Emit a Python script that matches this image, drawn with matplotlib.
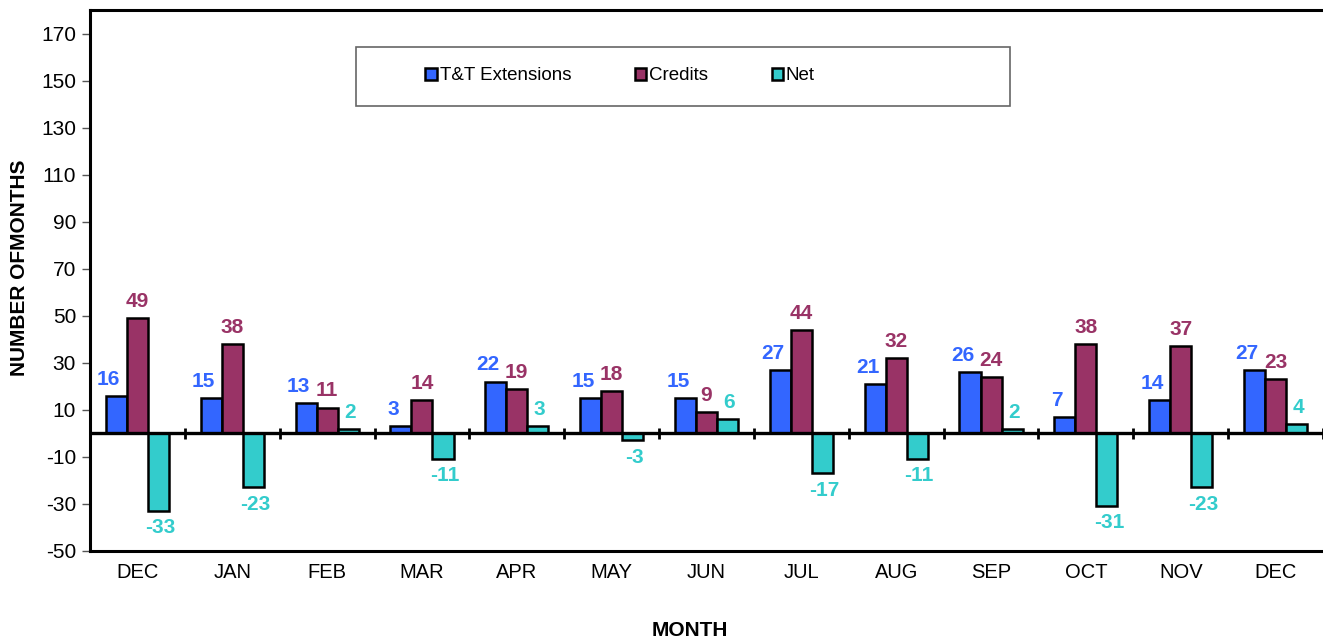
import numpy as np
import matplotlib
matplotlib.use("Agg")
import matplotlib.pyplot as plt
from matplotlib.patches import Rectangle

plt.rcParams["font.family"] = ["Liberation Sans", "DejaVu Sans"]
plt.rcParams["axes.unicode_minus"] = False

# data
months = ["DEC", "JAN", "FEB", "MAR", "APR", "MAY", "JUN", "JUL", "AUG", "SEP", "OCT", "NOV", "DEC"]
extensions = [16, 15, 13, 3, 22, 15, 15, 27, 21, 26, 7, 14, 27]
credits = [49, 38, 11, 14, 19, 18, 9, 44, 32, 24, 38, 37, 23]
net = [-33, -23, 2, -11, 3, -3, 6, -17, -11, 2, -31, -23, 4]

series_names = ["T&T Extensions", "Credits", "Net"]
colors = ["#3366FF", "#993366", "#33CCCC"]

fig = plt.figure(figsize=(13.23, 6.42), dpi=100)
ax = fig.add_axes([90 / 1323, 1 - 551 / 642, 1 - 90 / 1323, (551 - 10) / 642])

x = np.arange(len(months))
w = 0.222
offsets = [-w, 0, w]
label_shift = [-0.08, 0.0, 0.02]

for vals, name, col, off, sh in zip([extensions, credits, net], series_names, colors, offsets, label_shift):
    ax.bar(x + off, vals, width=w, color=col, edgecolor="black", linewidth=1.8, label=name, zorder=3)
    for xi, v in zip(x, vals):
        dy = 12 if v >= 0 else -12
        ax.annotate(str(v), (xi + off + sh, v), xytext=(0, dy), textcoords="offset points",
                    ha="center", va="center", color=col, fontsize=15, fontweight="bold")

# zero line with category separators
ax.axhline(0, color="black", linewidth=2.4, zorder=4)
ax.vlines(np.arange(len(months) + 1) - 0.5, -2.2, 2.2, color="black", linewidth=2, zorder=4)

ax.set_xlim(-0.5, len(months) - 0.5)
ax.set_ylim(-50, 180)
ax.set_yticks(np.arange(-50, 171, 20))
ax.set_xticks(x)
ax.set_xticklabels(months)
ax.tick_params(axis="x", length=0, pad=9, labelsize=14.5)
ax.tick_params(axis="y", length=6, width=1, direction="out", labelsize=15, color="#555555", pad=4)

for s in ["left", "top", "bottom"]:
    ax.spines[s].set_linewidth(2.2)
ax.spines["right"].set_visible(False)

fig.text(690 / 1323, 1 - 631 / 642, "MONTH", ha="center", va="center", fontsize=15, fontweight="bold")
fig.text(20 / 1323, 1 - 268 / 642, "NUMBER OFMONTHS", ha="center", va="center", rotation=90,
         fontsize=15, fontweight="bold")

# legend box
fig.patches.append(Rectangle((356 / 1323, 1 - 106 / 642), (1010 - 356) / 1323, (106 - 47) / 642,
                             transform=fig.transFigure, facecolor="white", edgecolor="#666666",
                             linewidth=1.2, zorder=5))
leg = fig.legend(loc="center left", bbox_to_anchor=(418 / 1323, 1 - 76 / 642), ncol=3, frameon=False,
                 fontsize=13.5, handlelength=0.6, handleheight=0.6, handletextpad=0.15,
                 columnspacing=3.4, borderaxespad=0)
leg.set_zorder(6)

fig.savefig("out.png", dpi=100)
